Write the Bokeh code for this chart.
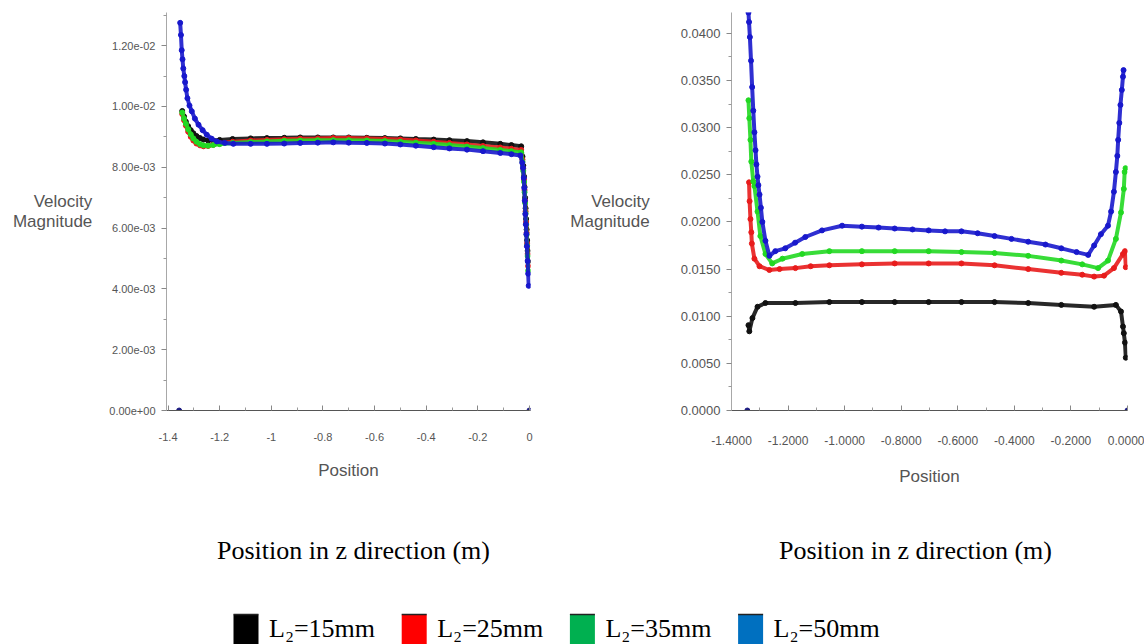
from bokeh.plotting import figure
from bokeh.layouts import column, row
from bokeh.models import (Range1d, FixedTicker, CustomJSTickFormatter,
                          PrintfTickFormatter, ColumnDataSource)
from bokeh.embed import file_html
from bokeh.resources import INLINE
from bokeh.core.properties import value

# ---------------- data ----------------
series_names = ["L\u2082=15mm", "L\u2082=25mm", "L\u2082=35mm", "L\u2082=50mm"]

# Left panel: velocity magnitude vs position
left_x_common = [-1.345, -1.338, -1.331, -1.322, -1.312, -1.302, -1.290, -1.276, -1.263, -1.245,
                 -1.225, -1.200, -1.150, -1.080, -1.017, -0.950, -0.888, -0.820, -0.760, -0.700,
                 -0.630, -0.560, -0.500, -0.440, -0.371, -0.310, -0.242, -0.180, -0.113, -0.070,
                 -0.032, -0.027, -0.024, -0.021, -0.019, -0.017, -0.015, -0.013, -0.011, -0.009,
                 -0.007, -0.005]
left_v_15 = [0.00985, 0.00967, 0.00950, 0.00935, 0.00922, 0.00912, 0.00903, 0.00896, 0.00891, 0.00888,
             0.00888, 0.00890, 0.00893, 0.00895, 0.00896, 0.00897, 0.00898, 0.00898, 0.00898, 0.00898,
             0.00897, 0.00896, 0.00895, 0.00893, 0.00891, 0.00889, 0.00886, 0.00882, 0.00877, 0.00873,
             0.00869, 0.00835, 0.00805, 0.00770, 0.00735, 0.00700, 0.00665, 0.00630, 0.00595, 0.00560,
             0.00525, 0.00490]
left_v_25 = [0.00975, 0.00955, 0.00937, 0.00917, 0.00900, 0.00888, 0.00878, 0.00872, 0.00869, 0.00870,
             0.00874, 0.00879, 0.00884, 0.00888, 0.00890, 0.00892, 0.00894, 0.00895, 0.00896, 0.00896,
             0.00895, 0.00893, 0.00891, 0.00888, 0.00884, 0.00880, 0.00875, 0.00870, 0.00865, 0.00861,
             0.00857, 0.00825, 0.00795, 0.00760, 0.00725, 0.00690, 0.00655, 0.00620, 0.00585, 0.00550,
             0.00515, 0.00475]
left_v_35 = [0.00980, 0.00960, 0.00943, 0.00925, 0.00908, 0.00895, 0.00884, 0.00876, 0.00872, 0.00871,
             0.00873, 0.00876, 0.00880, 0.00883, 0.00885, 0.00887, 0.00888, 0.00889, 0.00889, 0.00889,
             0.00888, 0.00886, 0.00884, 0.00881, 0.00877, 0.00873, 0.00868, 0.00863, 0.00857, 0.00853,
             0.00849, 0.00818, 0.00788, 0.00752, 0.00718, 0.00683, 0.00648, 0.00612, 0.00578, 0.00543,
             0.00508, 0.00460]
left_x_50 = [-1.353, -1.350, -1.347, -1.344, -1.341, -1.337, -1.334, -1.330, -1.325, -1.317,
             -1.308, -1.296, -1.282, -1.266, -1.250, -1.231, -1.211, -1.180, -1.147, -1.080,
             -1.017, -0.950, -0.888, -0.820, -0.760, -0.700, -0.630, -0.560, -0.500, -0.440,
             -0.371, -0.310, -0.242, -0.180, -0.113, -0.070, -0.035, -0.028, -0.025, -0.022,
             -0.020, -0.018, -0.016, -0.014, -0.012, -0.010, -0.007, -0.005, -0.003]
left_v_50 = [0.01275, 0.01235, 0.01185, 0.01155, 0.01125, 0.01100, 0.01080, 0.01055, 0.01027, 0.01003,
             0.00984, 0.00960, 0.00940, 0.00922, 0.00907, 0.00894, 0.00885, 0.00880, 0.00877, 0.00877,
             0.00877, 0.00878, 0.00880, 0.00881, 0.00882, 0.00881, 0.00880, 0.00878, 0.00875, 0.00871,
             0.00866, 0.00862, 0.00858, 0.00853, 0.00847, 0.00843, 0.00839, 0.00815, 0.00798, 0.00765,
             0.00732, 0.00690, 0.00646, 0.00612, 0.00580, 0.00540, 0.00492, 0.00450, 0.00410]
left_wall_x = [-1.357, 0.0]
left_wall_v = [0.0, 0.0]

# Right panel
right_x_15 = [-1.340, -1.337, -1.326, -1.308, -1.280, -1.174, -1.054, -0.939, -0.823, -0.703,
              -0.587, -0.470, -0.351, -0.234, -0.118, -0.041, -0.023, -0.016, -0.013, -0.009, -0.006]
right_v_15 = [0.00905, 0.0084, 0.0098, 0.0110, 0.0114, 0.0114, 0.0115, 0.0115, 0.0115, 0.0115,
              0.0115, 0.0115, 0.0114, 0.0112, 0.0110, 0.0112, 0.0105, 0.0089, 0.0082, 0.0072, 0.0056]
right_x_25 = [-1.338, -1.336, -1.333, -1.330, -1.328, -1.319, -1.301, -1.266, -1.230, -1.174,
              -1.120, -1.054, -0.939, -0.823, -0.703, -0.587, -0.470, -0.351, -0.234, -0.160,
              -0.118, -0.083, -0.048, -0.016, -0.009, -0.006]
right_v_25 = [0.0242, 0.0222, 0.0203, 0.0189, 0.0177, 0.0161, 0.0153, 0.0149, 0.0150, 0.0151,
              0.0153, 0.0154, 0.0155, 0.0156, 0.0156, 0.0156, 0.0154, 0.0150, 0.0146, 0.0144,
              0.0142, 0.0143, 0.0151, 0.0166, 0.0169, 0.0152]
right_x_35 = [-1.340, -1.337, -1.333, -1.330, -1.323, -1.319, -1.308, -1.298, -1.280, -1.256,
              -1.220, -1.150, -1.054, -0.939, -0.823, -0.703, -0.587, -0.470, -0.351, -0.234,
              -0.160, -0.104, -0.069, -0.041, -0.023, -0.013, -0.010, -0.007]
right_v_35 = [0.0329, 0.0310, 0.0287, 0.0264, 0.0243, 0.0238, 0.0211, 0.0185, 0.0166, 0.0156,
              0.0161, 0.0166, 0.0169, 0.0169, 0.0169, 0.0169, 0.0168, 0.0167, 0.0164, 0.0159,
              0.0155, 0.0151, 0.0159, 0.0182, 0.0210, 0.0235, 0.0253, 0.0257]
right_x_50 = [-1.340, -1.338, -1.335, -1.331, -1.327, -1.323, -1.319, -1.315, -1.312, -1.308,
              -1.305, -1.301, -1.296, -1.291, -1.280, -1.266, -1.245, -1.210, -1.175, -1.139,
              -1.080, -1.009, -0.939, -0.880, -0.823, -0.760, -0.703, -0.645, -0.587, -0.530,
              -0.470, -0.410, -0.351, -0.290, -0.234, -0.180, -0.139, -0.118, -0.094, -0.069,
              -0.058, -0.048, -0.041, -0.036, -0.033, -0.029, -0.025, -0.020, -0.016, -0.014]
right_v_50 = [0.0422, 0.0412, 0.0396, 0.0371, 0.0343, 0.0318, 0.0295, 0.0276, 0.0261, 0.0248,
              0.0239, 0.0229, 0.0215, 0.0200, 0.0180, 0.0164, 0.0169, 0.0172, 0.0178, 0.0184,
              0.0191, 0.0196, 0.0195, 0.0194, 0.0193, 0.0192, 0.0191, 0.0190, 0.0190, 0.0188,
              0.0185, 0.0182, 0.0179, 0.0176, 0.0172, 0.0168, 0.0165, 0.0175, 0.0187, 0.0196,
              0.0211, 0.0232, 0.0253, 0.0270, 0.0287, 0.0305, 0.0324, 0.0340, 0.0354, 0.0361]
right_wall_x = [-1.344, 0.0]
right_wall_v = [0.0, 0.0]

x_ticks = [-1.4, -1.2, -1.0, -0.8, -0.6, -0.4, -0.2, 0.0]
x_minor = [-1.3, -1.1, -0.9, -0.7, -0.5, -0.3, -0.1]
left_y_ticks = [0.0, 0.002, 0.004, 0.006, 0.008, 0.010, 0.012]
left_y_minor = [0.001, 0.003, 0.005, 0.007, 0.009, 0.011, 0.013]
right_y_ticks = [0.0, 0.005, 0.010, 0.015, 0.020, 0.025, 0.030, 0.035, 0.040]
right_y_minor = [0.0025, 0.0075, 0.0125, 0.0175, 0.0225, 0.0275, 0.0325, 0.0375]

caption = "Position in z direction (m)"
y_label = "Velocity\nMagnitude"
x_label = "Position"

# ---------------- styles ----------------
plot_colors = ["#111111", "#e81c1c", "#22d822", "#1818cc"]
legend_colors = ["#000000", "#ff0000", "#00b050", "#0070c0"]
wall_color = "#1c1c80"
SANS = "Liberation Sans"
SERIF = "Liberation Serif"
GRAY = "#555555"


def make_panel(width, height, xr, yr, bl, br, bt, bb, y_fmt, x_fmt, yticks, yminor,
               x_font, y_font, x_standoff, label_standoff, y_label_standoff):
    p = figure(width=width, height=height, x_range=Range1d(*xr), y_range=Range1d(*yr),
               output_backend="svg", toolbar_location=None,
               min_border_left=bl, min_border_right=br, min_border_top=bt, min_border_bottom=bb)
    p.outline_line_color = None
    p.grid.visible = False
    p.background_fill_color = "white"
    p.border_fill_color = "white"

    xa = p.xaxis[0]
    xa.ticker = FixedTicker(ticks=x_ticks, minor_ticks=x_minor)
    xa.formatter = x_fmt
    xa.axis_line_color = "#555555"
    xa.major_tick_line_color = "#888888"
    xa.minor_tick_line_color = "#999999"
    xa.major_tick_in = 5
    xa.major_tick_out = 0
    xa.minor_tick_in = 3
    xa.minor_tick_out = 0
    xa.major_label_standoff = x_standoff
    xa.major_label_text_font = SANS
    xa.major_label_text_font_size = x_font
    xa.major_label_text_color = GRAY
    xa.axis_label = x_label
    xa.axis_label_text_font = SANS
    xa.axis_label_text_font_style = "normal"
    xa.axis_label_text_font_size = "17px"
    xa.axis_label_text_color = GRAY
    xa.axis_label_standoff = label_standoff

    ya = p.yaxis[0]
    ya.ticker = FixedTicker(ticks=yticks, minor_ticks=yminor)
    ya.formatter = y_fmt
    ya.axis_line_color = "#a8a8a8"
    ya.major_tick_line_color = "#888888"
    ya.minor_tick_line_color = "#999999"
    ya.major_tick_in = 0
    ya.major_tick_out = 5
    ya.minor_tick_in = 0
    ya.minor_tick_out = 3
    ya.major_label_standoff = 6
    ya.major_label_text_font = SANS
    ya.major_label_text_font_size = y_font
    ya.major_label_text_color = GRAY
    ya.axis_label = y_label
    ya.axis_label_orientation = "horizontal"
    ya.axis_label_text_font = SANS
    ya.axis_label_text_font_style = "normal"
    ya.axis_label_text_font_size = "17px"
    ya.axis_label_text_color = GRAY
    ya.axis_label_text_line_height = 1.1
    ya.axis_label_standoff = y_label_standoff
    return p


left_y_fmt = CustomJSTickFormatter(code="""
if (Math.abs(tick) < 1e-12) return "0.00e+00";
const s = tick.toExponential(2).split("e");
let e = parseInt(s[1]);
const sg = e < 0 ? "-" : "+";
e = Math.abs(e);
return s[0] + "e" + sg + (e < 10 ? "0" + e : String(e));
""")
left_x_fmt = CustomJSTickFormatter(code="return String(parseFloat(tick.toFixed(3)));")

TOP_H = 500
pL = make_panel(560, TOP_H, (-1.406, 0.004), (0.0, 0.01309), 166, 30, 12, TOP_H - 410,
                left_y_fmt, left_x_fmt, left_y_ticks, left_y_minor, "11px", "11px", 22, 17, 14)
pR = make_panel(584, TOP_H, (-1.4, 0.0), (0.0, 0.04221), 171, 17, 12, TOP_H - 413,
                PrintfTickFormatter(format="%.4f"), PrintfTickFormatter(format="%.4f"),
                right_y_ticks, right_y_minor, "12px", "13px", 25, 19, 28)

left_sets = [(left_x_common, left_v_15), (left_x_common, left_v_25),
             (left_x_common, left_v_35), (left_x_50, left_v_50)]
right_sets = [(right_x_15, right_v_15), (right_x_25, right_v_25),
              (right_x_35, right_v_35), (right_x_50, right_v_50)]

for p, sets, wx, wv in [(pL, left_sets, left_wall_x, left_wall_v),
                        (pR, right_sets, right_wall_x, right_wall_v)]:
    for (xs, vs), c in zip(sets, plot_colors):
        src = ColumnDataSource(dict(x=xs, v=vs))
        p.line("x", "v", source=src, line_color=c, line_width=4, line_alpha=0.9)
        p.scatter("x", "v", source=src, size=5, fill_color=c, line_color=c)
    p.scatter(wx, wv, size=5, fill_color=wall_color, line_color=wall_color)

# ---------------- bottom: captions + legend ----------------
BOT_H = 144
pB = figure(width=1144, height=BOT_H, x_range=Range1d(0, 1144), y_range=Range1d(0, BOT_H),
            output_backend="svg", toolbar_location=None,
            min_border_left=0, min_border_right=0, min_border_top=0, min_border_bottom=0)
pB.axis.visible = False
pB.grid.visible = False
pB.outline_line_color = None

cap_centers = [353, 915]
pB.text(x=cap_centers, y=[BOT_H - 50] * 2, text=[caption, caption], text_align="center",
        text_baseline="middle", text_font=value(SERIF), text_font_size="26px",
        text_color="black")

n = len(series_names)
sq_x = [245.5 + i * 168.2 for i in range(n)]
pB.rect(x=sq_x, y=[15] * n, width=25, height=30, fill_color=legend_colors, line_color=None)
pB.segment(x0=[x - 12.5 for x in sq_x], x1=[x + 12.5 for x in sq_x], y0=[30] * n, y1=[30] * n,
           line_color="#222222", line_width=1.5)
pB.text(x=[x + 23 for x in sq_x], y=[16] * n, text=series_names, text_align="left",
        text_baseline="middle", text_font=value(SERIF), text_font_size="26px",
        text_color="black")

layout = column(row(pL, pR), pB)
open("out.html", "w").write(file_html(layout, INLINE))
